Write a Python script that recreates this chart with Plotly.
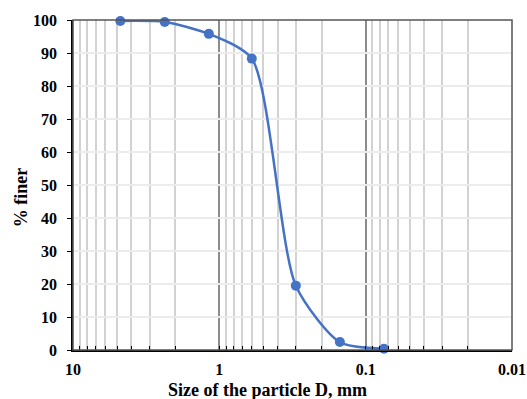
import plotly.graph_objects as go

sizes_mm = [4.75, 2.36, 1.18, 0.6, 0.3, 0.15, 0.075]
percent_finer = [99.7, 99.4, 95.8, 88.3, 19.5, 2.4, 0.4]
x_tick_vals = [10, 1, 0.1, 0.01]
x_tick_text = ["10", "1", "0.1", "0.01"]
y_tick_vals = [0, 10, 20, 30, 40, 50, 60, 70, 80, 90, 100]
x_title = "Size of the particle D, mm"
y_title = "% finer"

font_family = "Liberation Serif"

fig = go.Figure()
fig.add_trace(go.Scatter(
    x=sizes_mm, y=percent_finer, mode="lines+markers",
    line=dict(color="#4472C4", width=2.5, shape="spline", smoothing=0.7),
    marker=dict(color="#4472C4", size=10),
    showlegend=False, cliponaxis=False,
))

fig.update_layout(
    width=527, height=399,
    margin=dict(l=73, r=15, t=20, b=49, autoexpand=False),
    paper_bgcolor="white", plot_bgcolor="white",
    font=dict(family=font_family, size=16, color="black"),
)
fig.update_xaxes(
    type="log", range=[1, -2],
    tickvals=x_tick_vals, ticktext=x_tick_text,
    tickfont=dict(family=font_family, size=16, color="black", weight="bold"),
    ticklabelstandoff=4,
    showgrid=True, gridcolor="#8c8c8c", gridwidth=1.5,
    minor=dict(dtick="D1", showgrid=True, gridcolor="#d2d2d2", gridwidth=2,
               ticks="inside", ticklen=4, tickcolor="black"),
    ticks="inside", ticklen=4, tickcolor="black",
    showline=True, linecolor="black", linewidth=1.5,
    zeroline=False, automargin=False,
)
fig.update_yaxes(
    range=[0, 100], tickvals=y_tick_vals,
    tickfont=dict(family=font_family, size=16, color="black", weight="bold"),
    ticklabelstandoff=7,
    showgrid=True, gridcolor="#ececec", gridwidth=1.5,
    ticks="outside", ticklen=4, tickcolor="black",
    showline=True, linecolor="black", linewidth=1.5,
    zeroline=False, automargin=False,
)
fig.add_shape(type="rect", xref="paper", yref="paper", x0=0, x1=1, y0=0, y1=1,
              line=dict(color="#555555", width=1.5), layer="above")
fig.add_annotation(text="<b>" + x_title + "</b>", xref="paper", yref="paper",
                   x=0.444, y=0, yshift=-40, showarrow=False, yanchor="middle",
                   font=dict(family=font_family, size=18, color="black"))
fig.add_annotation(text="<b>" + y_title + "</b>", xref="paper", yref="paper",
                   x=0, xshift=-52, y=0.46, showarrow=False, textangle=-90,
                   xanchor="center", yanchor="middle",
                   font=dict(family=font_family, size=18, color="black"))

fig.write_html("out.html", config={"displayModeBar": False},
               post_script="document.body.style.margin='0';document.body.style.padding='0';document.body.style.overflow='hidden';")
